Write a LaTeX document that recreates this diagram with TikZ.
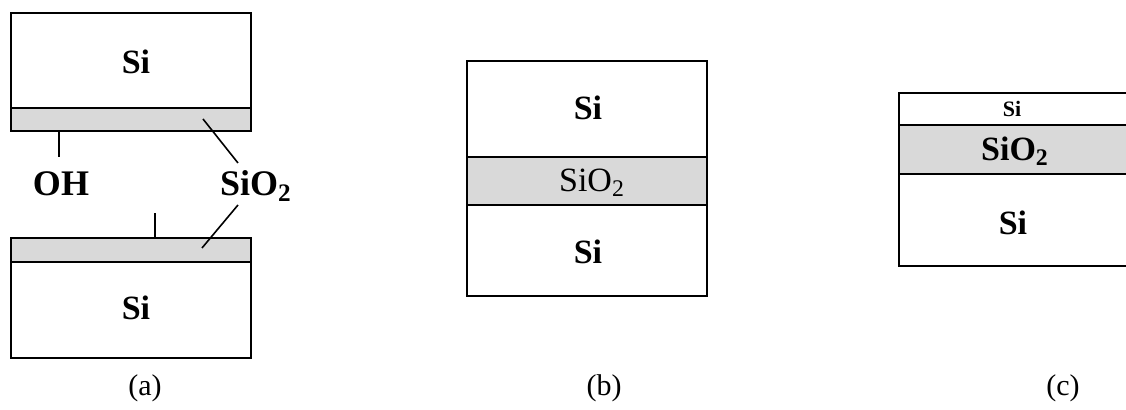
\documentclass[tikz,border=0pt]{standalone}
\usepackage{fontspec}
\setmainfont{Liberation Serif}
\usetikzlibrary{positioning}
\definecolor{oxidegray}{RGB}{217, 217, 217}
\tikzset{
  layer/.style={
    draw=black,
    line width=1pt,
    fill=white
  },
  oxide/.style={
    layer,
    fill=oxidegray
  },
  silabel/.style={
    font=\fontsize{17}{19}\selectfont\bfseries
  },
  oxlabel/.style={
    font=\fontsize{17}{19}\selectfont
  },
  smalllabel/.style={
    font=\fontsize{11}{13}\selectfont\bfseries
  },
  outlabel/.style={
    font=\fontsize{18}{20}\selectfont\bfseries
  },
  caption/.style={
    font=\fontsize{15}{17}\selectfont
  },
  leader/.style={
    draw=black,
    line width=0.8pt
  }
}

\begin{document}
\begin{tikzpicture}[x=0.5pt, y=-0.5pt]
          \clip (0, 0) rectangle (1126, 410);
          % (a) two wafers before bonding
          \draw[layer] (11, 13) rectangle (251, 108);
          \draw[oxide] (11, 108) rectangle (251, 131);
          \draw[oxide] (11, 238) rectangle (251, 262);
          \draw[layer] (11, 262) rectangle (251, 358);
          \node[silabel] (siatop) at (136, 62) {Si};
          \node[silabel] (siabot) at (136, 308) {Si};
          \node[outlabel] (oh) at (61, 184) {OH};
          \node[outlabel] (oxa) at (256, 186) {SiO\textsubscript{2}};
          \coordinate (ohtop) at (59, 131);
          \coordinate (ohend) at (59, 157);
          \coordinate (ohbot) at (155, 238);
          \coordinate (ohtip) at (155, 213);
          \coordinate (oxtop) at (203, 119);
          \coordinate (oxtopend) at (238, 163);
          \coordinate (oxbot) at (202, 248);
          \coordinate (oxbotend) at (238, 205);
          \draw[leader] (ohtop) -- (ohend);
          \draw[leader] (ohbot) -- (ohtip);
          \draw[leader] (oxtop) -- (oxtopend);
          \draw[leader] (oxbot) -- (oxbotend);
          \node[caption] (capa) at (145, 388) {(a)};

          % (b) bonded pair
          \draw[layer] (467, 61) rectangle (707, 157);
          \draw[oxide] (467, 157) rectangle (707, 205);
          \draw[layer] (467, 205) rectangle (707, 296);
          \node[silabel] (sibtop) at (588, 108) {Si};
          \node[oxlabel] (oxb) at (592, 183) {SiO\textsubscript{2}};
          \node[silabel] (sibbot) at (588, 252) {Si};
          \node[caption] (capb) at (604, 388) {(b)};

          % (c) thinned top layer
          \draw[layer] (899, 93) rectangle (1140, 125);
          \draw[oxide] (899, 125) rectangle (1140, 174);
          \draw[layer] (899, 174) rectangle (1140, 266);
          \node[smalllabel] (sictop) at (1012, 109) {Si};
          \node[silabel] (oxc) at (1015, 151) {SiO\textsubscript{2}};
          \node[silabel] (sicbot) at (1013, 223) {Si};
          \node[caption] (capc) at (1063, 388) {(c)};
        \end{tikzpicture}
\end{document}
